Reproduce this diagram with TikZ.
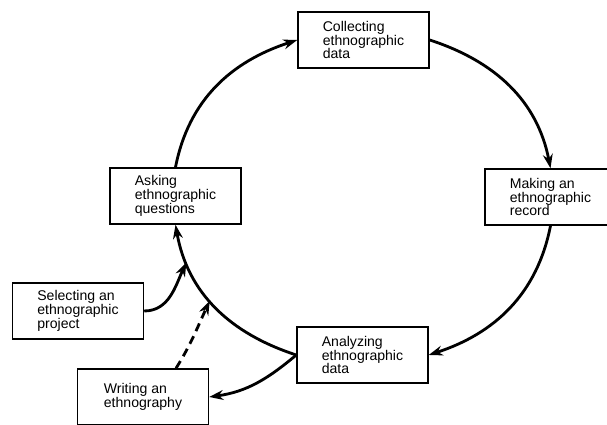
\documentclass[tikz,border=0pt]{standalone}
\usepackage{fontspec}
\setmainfont{Liberation Sans}
\usetikzlibrary{arrows.meta}
\begin{document}
\begin{tikzpicture}[x=0.025cm,y=0.025cm,>={Stealth[length=10pt,width=7pt]},
  stage/.style={rectangle,draw,line width=1pt,minimum width=3.275cm,minimum height=1.4cm,align=left,font=\fontsize{10}{9.8}\selectfont},
  flow/.style={->,line width=2pt}]
\useasboundingbox (0,0) rectangle (607,425);
\clip (0,0) rectangle (607,425);
\node (col) [stage] at (363.5,385) {Collecting\\ethnographic\\data};
\node (ask) [stage] at (175.5,229) {Asking\\ethnographic\\questions};
\node (rec) [stage] at (550.5,228) {Making an\\ethnographic\\record};
\node (ana) [stage] at (362.5,70) {Analyzing\\ethnographic\\data};
\node (sel) [stage] at (78,114) {Selecting an\\ethnographic\\project};
\node (wri) [stage] at (143,28) {Writing an\\ethnography};

\draw [flow] (ask.north) to[out=79,in=198] (col.west);
\draw [flow] (col.east) to[out=-18,in=101] (rec.north);
\draw [flow] (rec.south) to[out=-101,in=18] (ana.east);
\draw [flow] (ana.west) to[out=162,in=280] coordinate[pos=0.55] (dash) coordinate[pos=0.8] (join) (ask.south);

\draw [flow] (sel.east) to[out=0,in=245] (join);
\draw [flow,dash pattern=on 6pt off 4pt] (wri.41) to[out=58,in=245] (dash);
\draw [flow] (ana.west) to[out=220,in=8] (wri.east);
\end{tikzpicture}
\end{document}
